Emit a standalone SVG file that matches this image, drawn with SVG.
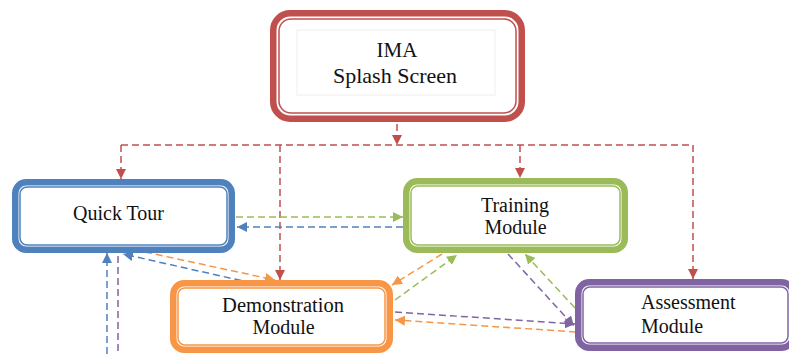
<svg xmlns="http://www.w3.org/2000/svg" width="789" height="354" viewBox="0 0 789 354">
<style>
.outer{fill:#fff;stroke-width:6.5}
.inner{fill:none;stroke-width:1.5}
.lbl{font-family:"Liberation Serif","Times New Roman",serif;font-size:20px;fill:#111}
.c{fill:none;stroke-width:1.5;stroke-dasharray:7 4}
.red{stroke:#C0504D}.blue{stroke:#4F81BD}.green{stroke:#9BBB59}.orange{stroke:#F79646}.purple{stroke:#8064A2}
</style>
<defs>
<marker id="aR" markerUnits="userSpaceOnUse" markerWidth="11" markerHeight="10" refX="10" refY="5" orient="auto"><path d="M0,0 L10,5 L0,10 z" fill="#C0504D"/></marker>
<marker id="aB" markerUnits="userSpaceOnUse" markerWidth="11" markerHeight="10" refX="10" refY="5" orient="auto"><path d="M0,0 L10,5 L0,10 z" fill="#4F81BD"/></marker>
<marker id="aG" markerUnits="userSpaceOnUse" markerWidth="11" markerHeight="10" refX="10" refY="5" orient="auto"><path d="M0,0 L10,5 L0,10 z" fill="#9BBB59"/></marker>
<marker id="aO" markerUnits="userSpaceOnUse" markerWidth="11" markerHeight="10" refX="10" refY="5" orient="auto"><path d="M0,0 L10,5 L0,10 z" fill="#F79646"/></marker>
<marker id="aP" markerUnits="userSpaceOnUse" markerWidth="11" markerHeight="10" refX="10" refY="5" orient="auto"><path d="M0,0 L10,5 L0,10 z" fill="#8064A2"/></marker>
</defs>
<rect width="789" height="354" fill="#fff"/>

<g id="connectors">
<path class="c red" d="M397,124 L397,145" marker-end="url(#aR)"/>
<path class="c red" d="M121,145 L693,145"/>
<path class="c red" d="M121,145 L121,179" marker-end="url(#aR)"/>
<path class="c red" d="M280,145 L280,280" marker-end="url(#aR)"/>
<path class="c red" d="M520,145 L520,178" marker-end="url(#aR)"/>
<path class="c red" d="M693,145 L693,279" marker-end="url(#aR)"/>

<path class="c green" d="M236,217 L403,217" marker-end="url(#aG)"/>
<path class="c blue" d="M403,227 L237,227" marker-end="url(#aB)"/>

<path class="c blue" d="M107,354 L107,253" marker-end="url(#aB)"/>
<path class="c purple" d="M118,256 L118,354"/>

<path class="c blue" d="M252,283 L123,254" marker-end="url(#aB)"/>
<path class="c orange" d="M145,252 L275,280" marker-end="url(#aO)"/>

<path class="c orange" d="M442,254 L392,285" marker-end="url(#aO)"/>
<path class="c green" d="M395,300 L457,255" marker-end="url(#aG)"/>

<path class="c purple" d="M508,254 L574,326" marker-end="url(#aP)"/>
<path class="c green" d="M575,308 L525,254" marker-end="url(#aG)"/>

<path class="c purple" d="M395,312 L575,324" marker-end="url(#aP)"/>
<path class="c orange" d="M576,332 L395,320" marker-end="url(#aO)"/>
</g>

<g id="splash">
<rect class="outer red" x="273.25" y="13.25" width="248.5" height="105.5" rx="17"/>
<rect class="inner red" x="279" y="19" width="237" height="94" rx="12"/>
<rect x="297" y="30" width="198" height="65" fill="none" stroke="#eeeeee" stroke-width="1"/>
<text class="lbl" x="397" y="57" text-anchor="middle" style="font-size:21px">IMA</text>
<text class="lbl" x="395" y="83" text-anchor="middle" style="font-size:22px">Splash Screen</text>
</g>

<g id="quicktour">
<rect class="outer blue" x="15.25" y="182.25" width="216.5" height="67.5" rx="11"/>
<rect class="inner blue" x="20" y="187" width="207" height="58" rx="7"/>
<text class="lbl" x="118.5" y="220" text-anchor="middle">Quick Tour</text>
</g>

<g id="training">
<rect class="outer green" x="406.25" y="181.25" width="218.5" height="68.5" rx="11"/>
<rect class="inner green" x="411" y="186" width="209" height="59" rx="7"/>
<text class="lbl" x="515" y="212" text-anchor="middle">Training</text>
<text class="lbl" x="515.5" y="234" text-anchor="middle">Module</text>
</g>

<g id="demonstration">
<rect class="outer orange" x="173.25" y="283.25" width="216.5" height="66.5" rx="11"/>
<rect class="inner orange" x="178" y="288" width="207" height="57" rx="7"/>
<text class="lbl" x="283" y="312" text-anchor="middle" style="font-size:20.5px">Demonstration</text>
<text class="lbl" x="283.5" y="334" text-anchor="middle">Module</text>
</g>

<g id="assessment">
<rect class="outer purple" x="578.25" y="282.25" width="214.5" height="65.5" rx="11"/>
<rect class="inner purple" x="583" y="287" width="205" height="56" rx="7"/>
<text class="lbl" x="641" y="309">Assessment</text>
<text class="lbl" x="641" y="333">Module</text>
</g>
</svg>
